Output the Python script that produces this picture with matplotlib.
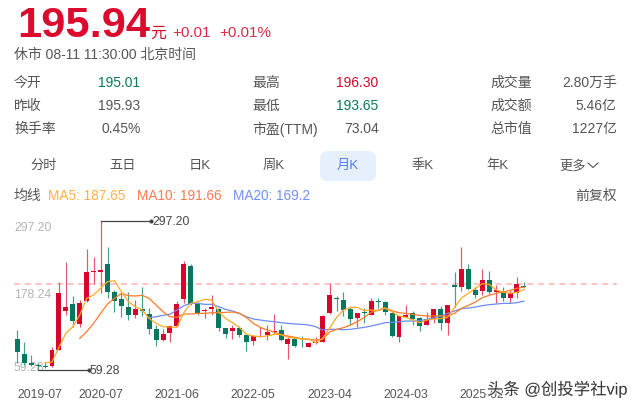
import matplotlib
matplotlib.use('Agg')
import matplotlib.pyplot as plt
import matplotlib.patheffects as pe
from matplotlib.patches import FancyBboxPatch

plt.rcParams['font.family'] = ['Liberation Sans', 'Noto Sans CJK SC', 'DejaVu Sans']

# monthly candles, 2019-07 .. 2025-08 (74 bars)
open_ = [108.2,84.8,69.9,66.7,65.6,66.1,91.7,154.0,164.1,132.7,170.0,216.3,216.3,229.0,183.8,173.2,159.8,146.5,157.2,149.2,
         124.2,107.7,117.8,129.5,172.1,225.3,164.6,152.9,156.1,157.2,125.8,121.0,125.8,114.6,106.1,112.5,114.6,119.9,122.6,100.8,
         108.2,98.1,96.5,102.4,103.9,150.3,174.8,171.0,156.6,142.3,152.4,147.6,170.0,168.4,150.8,112.5,144.4,149.7,141.8,131.6,
         141.2,157.2,134.3,195.5,191.8,220.0,187.0,185.4,203.5,183.8,185.4,174.2,181.7,193.4]
close = [87.4,70.9,67.7,65.6,64.5,90.6,181.7,159.8,136.9,166.2,215.2,217.9,219.0,184.3,170.0,160.9,147.6,156.1,152.9,124.2,
         107.1,116.7,129.5,164.6,228.5,164.6,149.7,155.6,159.3,125.8,117.3,126.3,115.1,104.5,113.5,114.1,119.4,122.1,107.1,109.3,
         97.0,97.0,102.4,104.5,146.0,179.5,173.2,155.0,141.2,150.8,150.8,170.0,168.4,152.4,113.0,146.0,147.6,141.2,129.0,140.1,
         156.1,134.3,163.0,191.8,221.1,188.6,179.5,203.0,183.8,187.5,174.2,181.7,196.6,191.8]
high = [123.1,104.5,82.6,69.9,72.5,95.4,199.8,232.3,178.0,171.0,252.5,239.2,297.2,255.1,187.0,181.7,183.3,171.0,191.3,158.8,
        131.1,124.7,131.1,170.0,233.3,228.5,168.4,158.8,179.0,157.7,125.8,130.6,130.1,116.2,115.1,127.4,130.6,148.7,131.1,111.4,
        109.8,113.5,104.5,111.4,147.1,197.6,178.0,184.3,160.4,150.8,158.2,174.2,174.2,170.0,152.4,146.0,162.5,153.5,144.4,151.9,
        157.2,161.4,163.0,216.3,255.7,229.0,192.3,220.0,216.8,195.0,191.3,187.0,207.2,199.8]
low = [69.9,67.2,65.6,59.28,63.0,63.5,91.2,146.5,127.4,128.4,168.4,196.6,181.7,174.2,152.4,144.4,139.1,141.7,145.5,116.7,
       97.5,106.1,103.4,127.4,165.7,163.0,147.1,142.3,147.1,122.0,110.9,108.7,111.9,90.1,98.6,111.4,107.7,116.7,106.1,76.3,
       95.4,96.5,95.4,100.8,103.4,148.7,154.0,146.0,131.1,127.9,134.8,146.5,158.2,146.5,112.5,103.9,143.3,130.6,121.0,131.1,
       133.8,123.1,114.6,159.3,185.9,187.0,173.7,178.5,180.6,166.2,170.0,165.7,174.2,190.2]

ma5_start = 4
ma5 = [70.9,72.0,95.4,117.8,128.4,147.1,173.7,179.0,189.7,200.3,201.9,184.3,168.4,160.4,155.1,141.7,133.8,128.4,128.0,
       127.4,150.8,165.7,168.4,172.1,171.0,152.4,141.7,134.8,127.4,116.2,113.5,112.5,113.5,116.2,115.7,111.4,109.8,108.7,108.7,
       102.9,109.8,125.8,143.3,155.0,159.3,159.3,154.0,155.0,154.0,158.2,152.4,145.5,143.3,139.1,134.8,139.1,140.7,141.2,143.3,
       159.3,174.2,181.7,189.7,197.1,196.0,187.0,183.8,181.7,183.3,187.65]
ma10_start = 9
ma10 = [109.8,120.5,133.8,149.7,164.6,173.7,181.7,178.0,177.4,178.5,173.7,163.0,152.4,144.4,
        143.3,148.7,148.7,149.7,149.7,150.8,150.8,151.3,151.9,149.7,143.3,133.8,127.4,123.1,119.9,115.7,113.5,111.4,109.3,108.2,
        107.1,108.2,120.0,124.2,126.8,131.1,136.4,143.3,151.3,155.0,158.2,154.0,150.8,149.7,148.1,146.5,145.5,145.5,145.5,145.5,
        149.7,157.7,162.5,167.8,174.8,178.5,181.7,183.8,186.5,189.7,191.66]
ma20_start = 19
ma20 = [142.8,144.4,146.5,148.4,155.0,162.0,165.7,165.7,164.1,164.1,160.4,156.1,153.5,149.7,144.4,140.7,139.1,137.5,136.4,134.8,
        133.8,132.7,132.2,131.1,128.4,123.1,124.2,124.2,123.6,124.2,125.8,127.4,129.5,132.2,134.8,135.4,136.4,137.5,137.5,138.0,
        140.1,142.3,145.5,149.7,153.5,157.2,158.2,159.8,162.0,163.6,164.6,165.7,165.7,166.8,169.2]

tick_idx = [0, 12, 23, 34, 45, 56, 67]
tick_labels = ['2019-07', '2020-07', '2021-06', '2022-05', '2023-04', '2024-03', '2025-02']
y_labels = ['297.20', '178.24', '59.28']
last_price = 195.94
max_price, max_idx = 297.20, 12
min_price, min_idx = 59.28, 3

RED, GREEN = '#d9042b', '#07785f'
REDW, GREENW = '#e8566e', '#45a08a'
GRAY, DARK = '#555555', '#444444'

W, H = 640, 409
fig = plt.figure(figsize=(6.4, 4.09), dpi=100, facecolor='white')

# page layer, measured in pixels
pg = fig.add_axes([0, 0, 1, 1])
pg.set_xlim(0, W); pg.set_ylim(H, 0); pg.axis('off')

def T(x, y, s, size=10, color=GRAY, ha='left', **kw):
    pg.text(x, y + 1, s, fontsize=size, color=color, ha=ha, va='center', **kw)

pg.text(17, 37, '195.94', fontsize=31.3, fontweight='bold', color='#dc0a2c', va='baseline')
T(150, 32, '元', 11.5, '#dc0a2c')
T(172, 32, '+0.01', 11, '#dc2a48')
T(219, 32, '+0.01%', 11, '#dc2a48')
T(14, 54, '休市 08-11 11:30:00 北京时间', 10)

rows = [82, 105, 128]
for y, a, b, c in zip(rows, ['今开', '昨收', '换手率'], ['195.01', '195.93', '0.45%'], [GREEN, GRAY, GRAY]):
    T(14, y, a, 10); T(140.5, y, b, 10, c, ha='right')
for y, a, b, c in zip(rows, ['最高', '最低', '市盈(TTM)'], ['196.30', '193.65', '73.04'], [RED, GREEN, GRAY]):
    T(252, y, a, 10); T(378.7, y, b, 10, c, ha='right')
for y, a, b in zip(rows, ['成交量', '成交额', '总市值'], ['2.80万手', '5.46亿', '1227亿']):
    T(490, y, a, 10); T(616.7, y, b, 10, ha='right')

pg.add_patch(FancyBboxPatch((322, 153), 52, 26, boxstyle='round,pad=2,rounding_size=8', fc='#e6f0fd', ec='none', zorder=0))
for x, s, c in [(44, '分时', GRAY), (122, '五日', GRAY), (200, '日K', GRAY), (274, '周K', GRAY), (348, '月K', '#5a78f0'),
                (423, '季K', GRAY), (497, '年K', GRAY), (573, '更多', GRAY)]:
    T(x, 165, s, 9.5, c, ha='center')
pg.plot([588, 593, 598], [163, 167.5, 163], color=GRAY, lw=0.8)

T(14, 195, '均线', 10)
T(48, 195, 'MA5: 187.65', 9.8, '#ffb04a')
T(137, 195, 'MA10: 191.66', 9.8, '#ff7a50')
T(233, 195, 'MA20: 169.2', 9.8, '#7090ff')
T(616.7, 195, '前复权', 10, ha='right')

# chart layer: price 297.20 sits on pixel row 221, 59.28 on row 370
left, right, top, bottom = 14, 617, 221, 370
ax = fig.add_axes([left / W, 1 - bottom / H, (right - left) / W, (bottom - top) / H], facecolor='none')
ax.set_xlim((left - 17.3) / 6.94, (right - 17.3) / 6.94)
ax.set_ylim(min_price, max_price)
for s in ax.spines.values():
    s.set_visible(False)
ax.set_yticks([])
ax.set_xticks(tick_idx, tick_labels, fontsize=8.7, color=GRAY)
ax.tick_params(axis='x', length=0, pad=14)
ax.get_xticklabels()[0].set_ha('left')

ax.axhline(last_price, color='#fdb4b4', lw=1.1, ls=(0, (4, 3)), zorder=1)

idx = list(range(len(open_)))
colors = [RED if c >= o else GREEN for o, c in zip(open_, close)]
wcolors = [REDW if c >= o else GREENW for o, c in zip(open_, close)]
ax.vlines(idx, low, high, colors=wcolors, lw=0.85, zorder=2, clip_on=False)
ax.bar(idx, [max(abs(c - o), 1.2) for o, c in zip(open_, close)], bottom=[min(o, c) for o, c in zip(open_, close)],
       width=0.72, color=colors, lw=0, zorder=3)

ax.plot(range(ma20_start, ma20_start + len(ma20)), ma20, color='#6a8cf5', lw=0.9, zorder=4)
ax.plot(range(ma10_start, ma10_start + len(ma10)), ma10, color='#ff7a28', lw=0.9, zorder=5)
ax.plot(range(ma5_start, ma5_start + len(ma5)), ma5, color='#ffab24', lw=0.9, zorder=6)

for v, i in [(max_price, max_idx), (min_price, min_idx)]:
    ax.plot([i, i + 7.3], [v, v], color=DARK, lw=0.9, zorder=7, clip_on=False)
    ax.plot([i + 7.3], [v], 'o', color=DARK, ms=2, zorder=7, clip_on=False)
    ax.annotate(f'{v:.2f}', (i + 7.3, v), xytext=(0.8, -0.6), textcoords='offset points', fontsize=8.7,
                color=DARK, va='center', annotation_clip=False)

for y, s in zip([227, 294, 367], y_labels):
    T(14, y, s, 8.7, '#b4b4b4', zorder=8)

wm = fig.text(487 / W, 1 - 389 / H, '头条 @创投学社vip', fontsize=11.8, color='#3a3a3a', va='center', zorder=20)
wm.set_path_effects([pe.withStroke(linewidth=1.5, foreground='#ffffffcc')])

fig.savefig('out.png', dpi=100, facecolor='white')
